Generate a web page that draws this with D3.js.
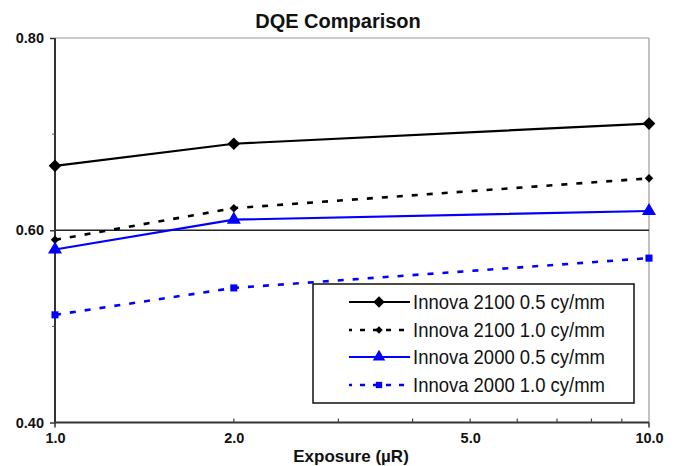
<!DOCTYPE html>
<html><head><meta charset="utf-8">
<script src="https://cdn.jsdelivr.net/npm/d3@7"></script>
<style>body{margin:0;background:#fff}svg{display:block}</style>
</head><body>
<svg id="c" width="676" height="466"></svg>
<script>
const exposures = [1, 2, 10];
const seriesNames = ["Innova 2100 0.5 cy/mm","Innova 2100 1.0 cy/mm","Innova 2000 0.5 cy/mm","Innova 2000 1.0 cy/mm"];
const innova2100_05 = [0.667, 0.690, 0.711];
const innova2100_10 = [0.590, 0.623, 0.654];
const innova2000_05 = [0.580, 0.611, 0.620];
const innova2000_10 = [0.512, 0.540, 0.571];
const yTicks = [0.40, 0.60, 0.80];
const yMinor = [0.50, 0.70];
const xTickLabels = [1, 2, 5, 10];
const xMinor = [2, 3, 4, 5, 6, 7, 8, 9];

const svg = d3.select("#c");
const L = 55, R = 649, T = 38, B = 422.5;
const x = d3.scaleLog().domain([1, 10]).range([L, R]);
const y = d3.scaleLinear().domain([0.4, 0.8]).range([B, T]);
const FONT = "Liberation Sans, Arial, sans-serif";

const styles = [
  {data: innova2100_05, color: "#000", dash: null, marker: "diamond", size: 80, w: 2.2},
  {data: innova2100_10, color: "#000", dash: "6,9", marker: "diamond", size: 36, w: 2.6},
  {data: innova2000_05, color: "#0000ff", dash: null, marker: "triangle", size: 85, w: 2.2},
  {data: innova2000_10, color: "#0000ff", dash: "6,9", marker: "square", size: 50, w: 2.6}
];
const symType = m => m === "triangle" ? d3.symbolTriangle : d3.symbolSquare;
const rot = m => m === "diamond" ? " rotate(45)" : "";

// plot border (top/right)
svg.append("line").attr("x1", L).attr("x2", R).attr("y1", T).attr("y2", T).attr("stroke", "#999").attr("stroke-width", 1.2);
svg.append("line").attr("x1", R).attr("x2", R).attr("y1", T).attr("y2", B).attr("stroke", "#999").attr("stroke-width", 1.2);
// gridline
svg.append("line").attr("x1", L).attr("x2", R).attr("y1", y(0.6)).attr("y2", y(0.6)).attr("stroke", "#222").attr("stroke-width", 1.4);

// y axis
const yAxis = svg.append("g").attr("transform", `translate(${L},0)`)
  .call(d3.axisLeft(y).tickValues(yTicks).tickFormat(d3.format(".2f")).tickSize(5).tickPadding(6));
yAxis.select(".domain").attr("stroke", "#333").attr("stroke-width", 2).attr("d", `M0,${T}V${B}`);
yAxis.selectAll(".tick line").attr("stroke", "#333").attr("stroke-width", 1.5);
yAxis.selectAll("text").attr("font-family", FONT).attr("font-weight", "bold").attr("font-size", 14.5).attr("fill", "#111");
svg.append("g").selectAll("line").data(yMinor).join("line")
  .attr("x1", L - 3).attr("x2", L).attr("y1", d => y(d)).attr("y2", d => y(d)).attr("stroke", "#555").attr("stroke-width", 1);

// x axis
const xAxis = svg.append("g").attr("transform", `translate(0,${B})`)
  .call(d3.axisBottom(x).tickValues(xTickLabels).tickFormat(d3.format(".1f")).tickSize(0).tickPadding(10));
xAxis.select(".domain").attr("stroke", "#333").attr("stroke-width", 2).attr("d", `M${L},0H${R}`);
xAxis.selectAll("text").attr("font-family", FONT).attr("font-weight", "bold").attr("font-size", 14.5).attr("fill", "#111");
svg.append("g").selectAll("line").data([1, 10]).join("line")
  .attr("x1", d => x(d)).attr("x2", d => x(d)).attr("y1", B).attr("y2", B + 5).attr("stroke", "#333").attr("stroke-width", 1.5);
svg.append("g").selectAll("line").data(xMinor).join("line")
  .attr("x1", d => x(d)).attr("x2", d => x(d)).attr("y1", B - 4).attr("y2", B).attr("stroke", "#444").attr("stroke-width", 1.2);

// title & axis label
svg.append("text").attr("x", 338).attr("y", 28).attr("text-anchor", "middle")
  .attr("font-family", FONT).attr("font-weight", "bold").attr("font-size", 20).attr("fill", "#111")
  .text("DQE Comparison");
svg.append("text").attr("x", 351).attr("y", 462).attr("text-anchor", "middle")
  .attr("font-family", FONT).attr("font-weight", "bold").attr("font-size", 17).attr("fill", "#111")
  .text("Exposure (µR)");

// series
const line = d3.line().x((d, i) => x(exposures[i])).y(d => y(d));
styles.forEach(s => {
  svg.append("path").datum(s.data).attr("d", line).attr("fill", "none")
    .attr("stroke", s.color).attr("stroke-width", s.w).attr("stroke-dasharray", s.dash);
  svg.append("g").selectAll("path").data(s.data).join("path")
    .attr("transform", (d, i) => `translate(${x(exposures[i])},${y(d)})${rot(s.marker)}`)
    .attr("d", d3.symbol().type(symType(s.marker)).size(s.size)).attr("fill", s.color);
});

// legend
const lg = svg.append("g");
lg.append("rect").attr("x", 313).attr("y", 284).attr("width", 321).attr("height", 119)
  .attr("fill", "#fff").attr("stroke", "#111").attr("stroke-width", 1.5);
const rowY = [302, 330, 357, 385];
styles.forEach((s, i) => {
  const g = lg.append("g");
  g.append("line").attr("x1", 349).attr("x2", 410).attr("y1", rowY[i]).attr("y2", rowY[i])
    .attr("stroke", s.color).attr("stroke-width", s.w).attr("stroke-dasharray", s.dash ? "5,8" : null)
    .attr("stroke-dashoffset", s.dash ? 2 : 0);
  g.append("path").attr("transform", `translate(379,${rowY[i]})${rot(s.marker)}`)
    .attr("d", d3.symbol().type(symType(s.marker)).size(s.size * 0.8)).attr("fill", s.color);
  g.append("text").attr("x", 413).attr("y", rowY[i] + 7)
    .attr("font-family", "Liberation Sans Narrow, Arial Narrow, Liberation Sans, sans-serif").attr("font-size", 21)
    .attr("textLength", 192).attr("lengthAdjust", "spacingAndGlyphs").attr("fill", "#111")
    .text(seriesNames[i]);
});
</script>
</body></html>
